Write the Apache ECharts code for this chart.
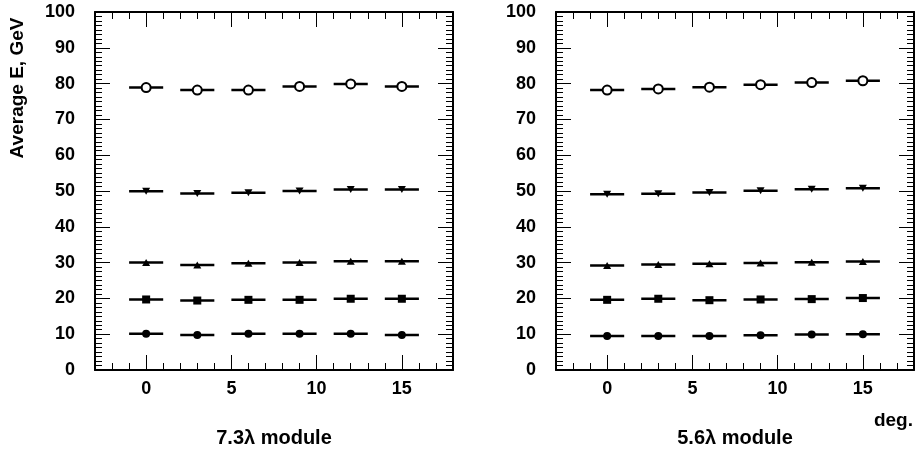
<!DOCTYPE html>
<html><head><meta charset="utf-8">
<script src="https://cdn.jsdelivr.net/npm/echarts@6/dist/echarts.min.js"></script>
<style>html,body{margin:0;padding:0;background:#fff}#c{width:916px;height:452px}</style>
</head><body><div id="c"></div>
<script>
// ---- data ----
const angles = [0, 3, 6, 9, 12, 15];           // deg
const angleErr = 1;                            // horizontal error half-width, deg
const xMajorTicks = [0, 5, 10, 15];
const xMinorTicks = [-2,-1,0,1,2,3,4,5,6,7,8,9,10,11,12,13,14,15,16,17];
const panelTitles = ['7.3\u03bb module', '5.6\u03bb module'];
const yTitle = 'Average E, GeV';
const xUnit = 'deg.';

// left panel (7.3 lambda)
const L_e80 = [78.9, 78.2, 78.2, 79.2, 79.9, 79.2];
const L_e50 = [49.9, 49.3, 49.5, 50.0, 50.4, 50.4];
const L_e30 = [30.0, 29.3, 29.8, 30.0, 30.4, 30.4];
const L_e20 = [19.7, 19.4, 19.6, 19.6, 19.9, 19.9];
const L_e10 = [10.1, 9.8, 10.1, 10.1, 10.1, 9.8];
// right panel (5.6 lambda)
const R_e80 = [78.2, 78.5, 79.0, 79.7, 80.3, 80.8];
const R_e50 = [49.1, 49.2, 49.6, 50.1, 50.5, 50.8];
const R_e30 = [29.2, 29.5, 29.7, 29.9, 30.1, 30.3];
const R_e20 = [19.6, 19.9, 19.5, 19.7, 19.8, 20.1];
const R_e10 = [9.5, 9.5, 9.5, 9.7, 9.9, 10.0];

// ---- build ----
const FONT = "'Liberation Sans', Arial, Helvetica, sans-serif";
const panels = [
  {sets: [L_e80, L_e50, L_e30, L_e20, L_e10], grid: {left: 95, top: 12, width: 358, height: 358}},
  {sets: [R_e80, R_e50, R_e30, R_e20, R_e10], grid: {left: 556, top: 12, width: 358, height: 358}}
];
const markerStyles = [
  {symbol: 'circle', size: 9, rotate: 0, color: '#fff', border: 2},
  {symbol: 'triangle', size: [8, 7], rotate: 180, color: '#000', border: 0},
  {symbol: 'triangle', size: [8, 7], rotate: 0, color: '#000', border: 0},
  {symbol: 'rect', size: 8, rotate: 0, color: '#000', border: 0},
  {symbol: 'circle', size: 8, rotate: 0, color: '#000', border: 0}
];

const grids = [], xAxes = [], yAxes = [], series = [];
function errRender(params, api) {
  const x = api.value(0), y = api.value(1);
  const p1 = api.coord([x - angleErr, y]);
  const p2 = api.coord([x + angleErr, y]);
  return {type: 'line', shape: {x1: p1[0], y1: p1[1], x2: p2[0], y2: p2[1]},
          style: {stroke: '#000', lineWidth: 2.5}};
}
panels.forEach((p, gi) => {
  grids.push(p.grid);
  const baseX = {gridIndex: gi, type: 'value', min: -3, max: 18, splitLine: {show: false}};
  const mainXIdx = xAxes.length;
  ['bottom', 'top'].forEach(pos => {
    xAxes.push(Object.assign({}, baseX, {
      position: pos,
      axisLine: {show: true, onZero: false, lineStyle: {color: '#000', width: 2}},
      axisTick: {show: true, inside: true, length: 15, customValues: xMajorTicks, lineStyle: {color: '#000', width: 1}},
      axisLabel: pos === 'bottom'
        ? {show: true, customValues: xMajorTicks, margin: 10, color: '#000', fontSize: 18, fontWeight: 'bold', fontFamily: FONT}
        : {show: false}
    }));
    xAxes.push(Object.assign({}, baseX, {
      position: pos,
      axisLine: {show: false, onZero: false},
      axisTick: {show: true, inside: true, length: 7, customValues: xMinorTicks, lineStyle: {color: '#000', width: 1}},
      axisLabel: {show: false}
    }));
  });
  const mainYIdx = yAxes.length;
  ['left', 'right'].forEach(pos => {
    yAxes.push({
      gridIndex: gi, type: 'value', position: pos, min: 0, max: 100, interval: 10,
      splitLine: {show: false},
      axisLine: {show: true, onZero: false, lineStyle: {color: '#000', width: 2}},
      axisTick: {show: true, inside: true, length: 15, lineStyle: {color: '#000', width: 1}},
      minorTick: {show: true, splitNumber: 8, length: 7, lineStyle: {color: '#000', width: 1}},
      axisLabel: pos === 'left'
        ? {show: true, margin: 20, color: '#000', fontSize: 18, fontWeight: 'bold', fontFamily: FONT}
        : {show: false}
    });
  });
  p.sets.forEach((vals, si) => {
    const data = angles.map((a, i) => [a, vals[i]]);
    series.push({
      type: 'custom', xAxisIndex: mainXIdx, yAxisIndex: mainYIdx,
      renderItem: errRender, data: data, z: 2, silent: true
    });
    const m = markerStyles[si];
    series.push({
      type: 'scatter', xAxisIndex: mainXIdx, yAxisIndex: mainYIdx,
      data: data, symbol: m.symbol, symbolSize: m.size, symbolRotate: m.rotate, z: 3,
      itemStyle: {color: m.color, borderColor: '#000', borderWidth: m.border, opacity: 1},
      emphasis: {disabled: true}, silent: true
    });
  });
});

const chart = echarts.init(document.getElementById('c'), null, {renderer: 'canvas'});
chart.setOption({
  animation: false,
  backgroundColor: '#fff',
  grid: grids, xAxis: xAxes, yAxis: yAxes, series: series,
  graphic: [
    {type: 'text', x: 18, y: 88, rotation: Math.PI / 2,
     style: {text: yTitle, font: 'bold 19px ' + FONT, fill: '#000', textAlign: 'center', textVerticalAlign: 'middle'}},
    {type: 'text', x: 274, y: 438,
     style: {text: panelTitles[0], font: 'bold 20px ' + FONT, fill: '#000', textAlign: 'center', textVerticalAlign: 'middle'}},
    {type: 'text', x: 735, y: 438,
     style: {text: panelTitles[1], font: 'bold 20px ' + FONT, fill: '#000', textAlign: 'center', textVerticalAlign: 'middle'}},
    {type: 'text', x: 913, y: 421,
     style: {text: xUnit, font: 'bold 19px ' + FONT, fill: '#000', textAlign: 'right', textVerticalAlign: 'middle'}}
  ]
});
</script>
</body></html>
